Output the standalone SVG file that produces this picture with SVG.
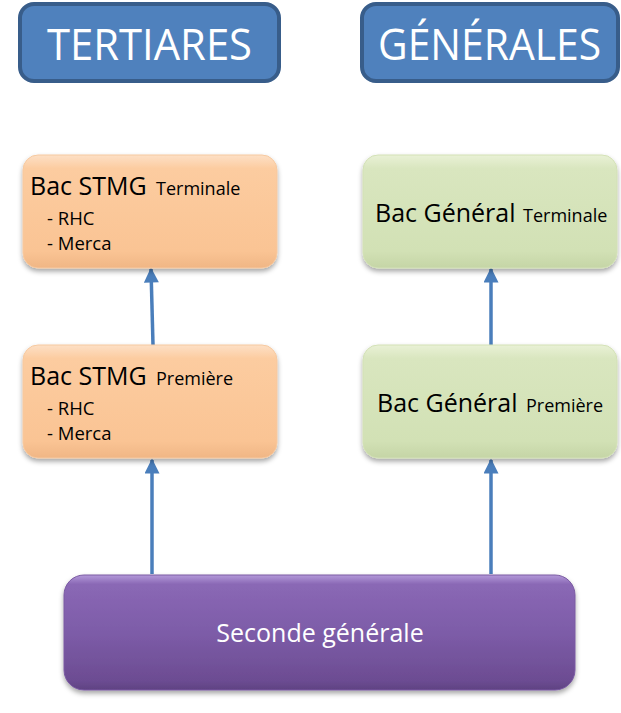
<svg xmlns="http://www.w3.org/2000/svg" width="621" height="713" viewBox="0 0 621 713">
  <defs>
    <style>
      .hdr { fill: #4f81bd; stroke: #385d8a; stroke-width: 4; }
      .hdrtxt { font-family: "Open Sans", "Liberation Sans", sans-serif; font-size: 43px; fill: #ffffff; }
      .orange { fill: url(#gOrange); stroke: #f6c9a0; stroke-width: 1; }
      .green { fill: url(#gGreen); stroke: #d3e1b6; stroke-width: 1; }
      .purple { fill: url(#gPurple); stroke: #7a5aa2; stroke-width: 1; }
      .big { font-family: "Open Sans", "Liberation Sans", sans-serif; font-size: 25px; fill: #000000; }
      .small { font-size: 18px; }
      .item { font-family: "Open Sans", "Liberation Sans", sans-serif; font-size: 18.5px; fill: #000000; }
      .sec { font-family: "Open Sans", "Liberation Sans", sans-serif; font-size: 25px; fill: #ffffff; }
      .conn { stroke: #4a7ebb; stroke-width: 3.5; fill: none; marker-end: url(#arrow); }
    </style>
    <linearGradient id="gOrange" x1="0" y1="0" x2="0" y2="1">
      <stop offset="0" stop-color="#fde0c6"/>
      <stop offset="0.12" stop-color="#fccca0"/>
      <stop offset="0.85" stop-color="#fac494"/>
      <stop offset="1" stop-color="#f0b685"/>
    </linearGradient>
    <linearGradient id="gGreen" x1="0" y1="0" x2="0" y2="1">
      <stop offset="0" stop-color="#e9f1d6"/>
      <stop offset="0.12" stop-color="#d9e6bf"/>
      <stop offset="0.85" stop-color="#d2e1b5"/>
      <stop offset="1" stop-color="#c5d5a6"/>
    </linearGradient>
    <linearGradient id="gPurple" x1="0" y1="0" x2="0" y2="1">
      <stop offset="0" stop-color="#b399d9"/>
      <stop offset="0.08" stop-color="#8a68b5"/>
      <stop offset="0.5" stop-color="#7d5ca8"/>
      <stop offset="0.92" stop-color="#6c4c92"/>
      <stop offset="1" stop-color="#5f4282"/>
    </linearGradient>
    <filter id="shadow" x="-10%" y="-10%" width="120%" height="130%">
      <feDropShadow dx="0" dy="3" stdDeviation="2.5" flood-color="#000000" flood-opacity="0.35"/>
    </filter>
    <marker id="arrow" viewBox="0 0 10 10" refX="9" refY="5" markerUnits="userSpaceOnUse" markerWidth="17" markerHeight="15" orient="auto">
      <path d="M0,0 L10,5 L0,10 Z" fill="#4a7ebb"/>
    </marker>
  </defs>

  <g id="header-tertiares">
    <rect class="hdr" x="20" y="4" width="259" height="77" rx="14"/>
    <text class="hdrtxt" x="47" y="60" textLength="205" lengthAdjust="spacingAndGlyphs">TERTIARES</text>
  </g>
  <g id="header-generales">
    <rect class="hdr" x="362" y="4" width="256" height="77" rx="14"/>
    <text class="hdrtxt" x="378" y="60" textLength="223" lengthAdjust="spacingAndGlyphs">GÉNÉRALES</text>
  </g>

  <g id="connectors">
    <line class="conn" x1="152" y1="574" x2="152" y2="460"/>
    <line class="conn" x1="153" y1="345" x2="151" y2="269"/>
    <line class="conn" x1="491" y1="574" x2="491" y2="460"/>
    <line class="conn" x1="491" y1="345" x2="491" y2="269"/>
  </g>

  <g id="stmg-terminale">
    <rect class="orange" x="23" y="155" width="254" height="113" rx="15" filter="url(#shadow)"/>
    <text class="big" x="30" y="195">Bac STMG <tspan class="small" x="156">Terminale</tspan></text>
    <text class="item" x="47" y="225">- RHC</text>
    <text class="item" x="47" y="250">- Merca</text>
  </g>

  <g id="stmg-premiere">
    <rect class="orange" x="23" y="345" width="254" height="113" rx="15" filter="url(#shadow)"/>
    <text class="big" x="30" y="385">Bac STMG <tspan class="small" x="156">Première</tspan></text>
    <text class="item" x="47" y="415">- RHC</text>
    <text class="item" x="47" y="440">- Merca</text>
  </g>

  <g id="general-terminale">
    <rect class="green" x="363" y="155" width="254" height="113" rx="15" filter="url(#shadow)"/>
    <text class="big" x="375" y="222">Bac Général <tspan class="small" x="523">Terminale</tspan></text>
  </g>

  <g id="general-premiere">
    <rect class="green" x="363" y="345" width="254" height="113" rx="15" filter="url(#shadow)"/>
    <text class="big" x="377" y="412">Bac Général <tspan class="small" x="526">Première</tspan></text>
  </g>

  <g id="seconde-generale">
    <rect class="purple" x="64" y="575" width="511" height="115" rx="20" filter="url(#shadow)"/>
    <text class="sec" x="320" y="642" text-anchor="middle">Seconde générale</text>
  </g>
</svg>
